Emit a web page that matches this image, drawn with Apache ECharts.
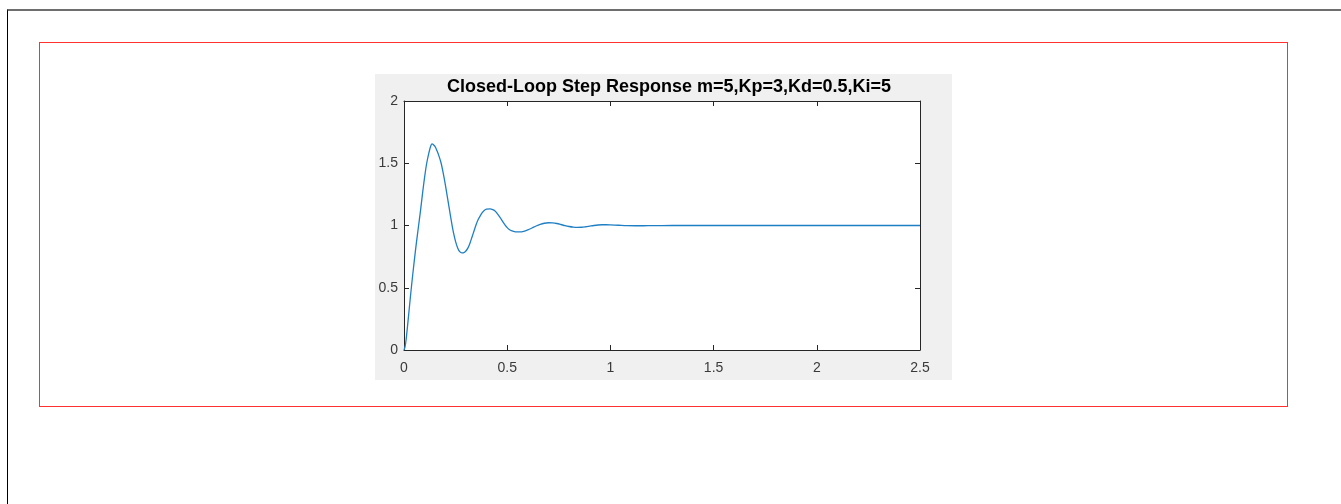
<!DOCTYPE html>
<html>
<head>
<meta charset="utf-8">
<script src="https://cdn.jsdelivr.net/npm/echarts@6/dist/echarts.min.js"></script>
<style>
  html, body { margin: 0; padding: 0; background: #ffffff; width: 1341px; height: 504px; overflow: hidden; }
  #frame { position: absolute; left: 7px; top: 9px; width: 1334px; height: 495px;
           border-top: 2px solid #6e6e6e; border-left: 1px solid #000000; box-sizing: border-box; }
  #redbox { position: absolute; left: 39px; top: 42px; width: 1249px; height: 365px;
            border: 1px solid #ff3030; box-sizing: border-box; }
  #chart { position: absolute; left: 375px; top: 74px; width: 577px; height: 306px; }
</style>
</head>
<body>
<div id="frame"></div>
<div id="redbox"></div>
<div id="chart"></div>
<script>
const titleText = 'Closed-Loop Step Response m=5,Kp=3,Kd=0.5,Ki=5';
const xTicks = [0, 0.5, 1, 1.5, 2, 2.5];
const yTicks = [0, 0.5, 1, 1.5, 2];
const timeValues = [
  0, 0.005, 0.01, 0.02, 0.03, 0.04, 0.05, 0.06, 0.07, 0.08, 0.09, 0.10, 0.11, 0.12, 0.13, 0.136,
  0.14, 0.15, 0.16, 0.17, 0.18, 0.19, 0.20, 0.21, 0.22, 0.23, 0.24, 0.25, 0.26, 0.27, 0.28, 0.29,
  0.30, 0.31, 0.32, 0.33, 0.34, 0.35, 0.36, 0.37, 0.38, 0.39, 0.40, 0.417, 0.43, 0.44, 0.45, 0.46,
  0.47, 0.48, 0.49, 0.50, 0.51, 0.52, 0.54, 0.56, 0.58, 0.60, 0.62, 0.64, 0.66, 0.68, 0.70, 0.72,
  0.74, 0.76, 0.78, 0.80, 0.82, 0.84, 0.86, 0.88, 0.90, 0.92, 0.94, 0.96, 0.98, 1.00, 1.04, 1.08,
  1.12, 1.16, 1.20, 1.30, 1.50, 1.75, 2.00, 2.25, 2.50
];
const responseValues = [
  0, 0.025, 0.08, 0.24, 0.41, 0.57, 0.72, 0.86, 0.99, 1.12, 1.26, 1.39, 1.50, 1.58, 1.64, 1.655,
  1.652, 1.635, 1.60, 1.555, 1.50, 1.42, 1.33, 1.23, 1.13, 1.03, 0.94, 0.87, 0.82, 0.79, 0.78, 0.782,
  0.795, 0.82, 0.86, 0.91, 0.96, 1.01, 1.05, 1.08, 1.105, 1.122, 1.131, 1.134, 1.128, 1.118, 1.10, 1.078,
  1.053, 1.027, 1.003, 0.983, 0.968, 0.958, 0.949, 0.948, 0.953, 0.965, 0.98, 0.996, 1.009, 1.018, 1.022, 1.021,
  1.016, 1.008, 0.999, 0.992, 0.987, 0.985, 0.986, 0.99, 0.995, 1.0, 1.004, 1.006, 1.006, 1.005, 1.002, 0.999,
  0.998, 0.998, 0.999, 1.0, 1.0, 1.0, 1.0, 1.0, 1.0
];
const seriesData = timeValues.map((t, i) => [t, responseValues[i]]);

const axisColor = '#262626';
const labelColor = '#3a3a3a';
const fontFam = 'Arial, "Liberation Sans", Helvetica, sans-serif';

const chart = echarts.init(document.getElementById('chart'), null, { renderer: 'canvas' });
const baseX = {
  type: 'value', min: 0, max: 2.5, interval: 0.5,
  axisLine: { show: true, onZero: false, lineStyle: { color: axisColor, width: 1 } },
  axisTick: { show: true, inside: true, length: 5, lineStyle: { color: axisColor } },
  splitLine: { show: false }
};
const baseY = {
  type: 'value', min: 0, max: 2, interval: 0.5,
  axisLine: { show: true, onZero: false, lineStyle: { color: axisColor, width: 1 } },
  axisTick: { show: true, inside: true, length: 5, lineStyle: { color: axisColor } },
  splitLine: { show: false }
};
chart.setOption({
  backgroundColor: '#f0f0f0',
  animation: false,
  title: {
    text: titleText, left: 72, top: 4, padding: 0,
    textStyle: { fontFamily: fontFam, fontSize: 18, fontWeight: 'bold', color: '#000000' }
  },
  grid: { left: 29, top: 27, right: 32, bottom: 30, show: true, backgroundColor: '#ffffff', borderWidth: 0 },
  xAxis: [
    Object.assign({}, baseX, {
      position: 'bottom',
      axisLabel: { show: true, color: labelColor, fontSize: 14, fontFamily: fontFam, margin: 11,
        formatter: v => xTicks.includes(v) ? String(v) : '' }
    }),
    Object.assign({}, baseX, { position: 'top', axisLabel: { show: false } })
  ],
  yAxis: [
    Object.assign({}, baseY, {
      position: 'left',
      axisLabel: { show: true, color: labelColor, fontSize: 14, fontFamily: fontFam, margin: 6,
        formatter: v => yTicks.includes(v) ? String(v) : '' }
    }),
    Object.assign({}, baseY, { position: 'right', axisLabel: { show: false } })
  ],
  series: [{
    type: 'line', data: seriesData, showSymbol: false, smooth: 0.3,
    xAxisIndex: 0, yAxisIndex: 0,
    lineStyle: { color: '#1f7fc4', width: 1.3 }
  }]
});
</script>
</body>
</html>
